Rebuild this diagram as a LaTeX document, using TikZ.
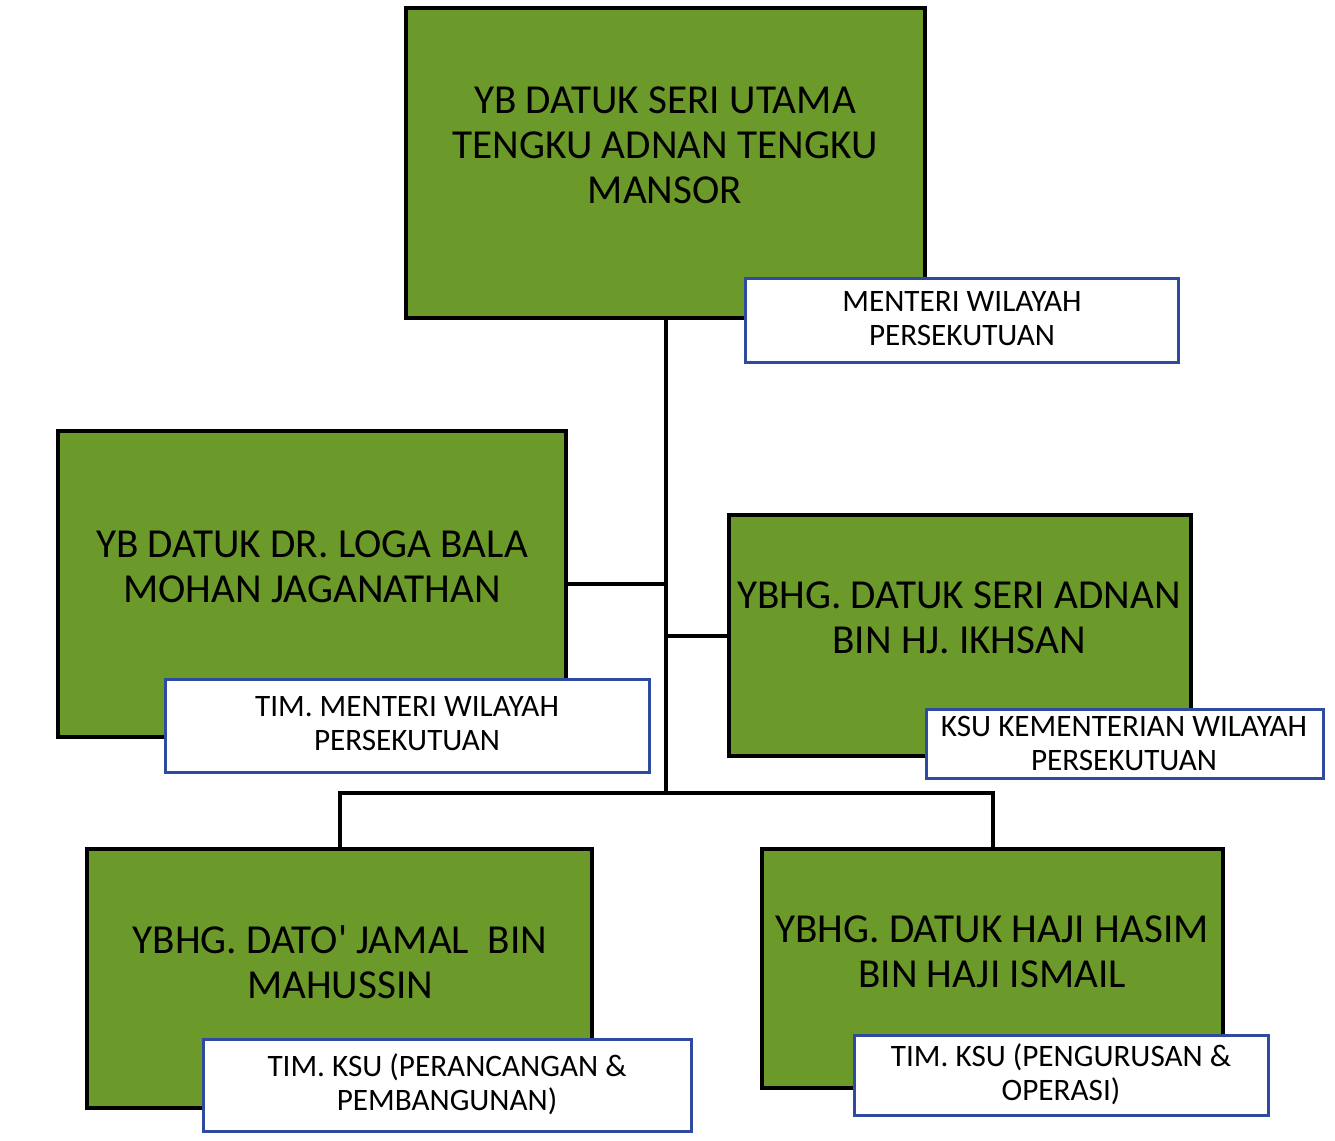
\documentclass[tikz,border=0pt]{standalone}
\usepackage{fontspec}
\setmainfont{Carlito}[Ligatures=TeXOff]
\definecolor{boxgreen}{RGB}{107,153,42}
\definecolor{labelblue}{RGB}{47,75,160}
\begin{document}
\begin{tikzpicture}[x=1pt,y=-1pt,
  person/.style={draw=black,line width=4pt,fill=boxgreen,inner sep=0pt},
  ptext/.style={align=center,text=black,inner sep=0pt,font=\fontsize{41.2}{45}\selectfont},
  role/.style={draw=labelblue,line width=3pt,fill=white,inner sep=0pt},
  rtext/.style={align=center,text=black,inner sep=0pt,font=\fontsize{31.2}{34}\selectfont},
  conn/.style={draw=black,line width=4pt}]
\fill[white] (0,0) rectangle (1335,1140);
\useasboundingbox (0,0) rectangle (1335,1140);
% green person boxes
\node[person,minimum width=519pt,minimum height=310pt] (a) at (665.5,163) {};
\node[person,minimum width=508pt,minimum height=306pt] (b) at (312,584) {};
\node[person,minimum width=462pt,minimum height=241pt] (c) at (960,635.5) {};
\node[person,minimum width=505pt,minimum height=259pt] (d) at (339.5,978.5) {};
\node[person,minimum width=461pt,minimum height=239pt] (e) at (992.5,968.5) {};
% names
\node[ptext] (ta) at (665,145) {YB DATUK SERI UTAMA\\TENGKU ADNAN TENGKU\\MANSOR};
\node[ptext] (tb) at (312,567) {YB DATUK DR. LOGA BALA\\MOHAN JAGANATHAN};
\node[ptext] (tc) at (959,618) {YBHG. DATUK SERI ADNAN\\BIN HJ. IKHSAN};
\node[ptext] (td) at (340,962) {YBHG. DATO' JAMAL\ \ BIN\\MAHUSSIN};
\node[ptext] (te) at (992,952) {YBHG. DATUK HAJI HASIM\\BIN HAJI ISMAIL};
% connectors
\coordinate (bus) at (a.south |- 0,793);
\draw[conn] (a.south) -- (bus);
\draw[conn] (b.east) -- (b.east -| a.south);
\draw[conn] (c.west) -- (c.west -| a.south);
\draw[conn] (d.north) |- (bus) -| (e.north);
% role labels
\node[role,minimum width=433pt,minimum height=84pt] (ra) at (961.5,320) {};
\node[rtext] (rta) at (962,319) {MENTERI WILAYAH\\PERSEKUTUAN};
\node[role,minimum width=484pt,minimum height=93pt] (rb) at (407,725.5) {};
\node[rtext] (rtb) at (407,724) {TIM. MENTERI WILAYAH\\PERSEKUTUAN};
\node[role,minimum width=397pt,minimum height=69pt] (rc) at (1124.5,743.5) {};
\node[rtext] (rtc) at (1124,743) {KSU KEMENTERIAN WILAYAH\\PERSEKUTUAN};
\node[role,minimum width=488pt,minimum height=92pt] (rd) at (447,1085) {};
\node[rtext] (rtd) at (447,1084) {TIM. KSU (PERANCANGAN \&\\PEMBANGUNAN)};
\node[role,minimum width=414pt,minimum height=80pt] (re) at (1061,1075) {};
\node[rtext] (rte) at (1061,1074) {TIM. KSU (PENGURUSAN \&\\OPERASI)};
\end{tikzpicture}
\end{document}
